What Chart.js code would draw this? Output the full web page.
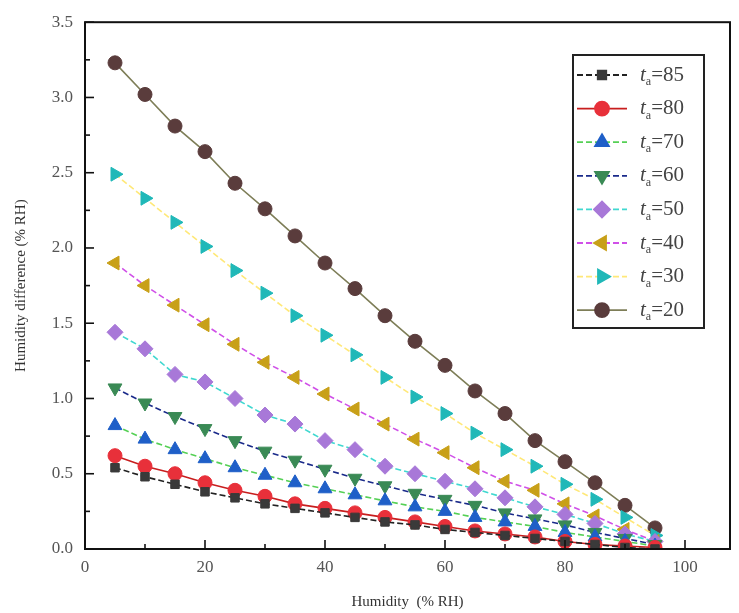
<!DOCTYPE html>
<html><head><meta charset="utf-8">
<script src="https://cdn.jsdelivr.net/npm/chart.js@4/dist/chart.umd.min.js"></script>
<style>html,body{margin:0;padding:0;background:#fff}#wrap{width:739px;height:613px}</style>
</head><body><div id="wrap"><canvas id="c" width="739" height="613"></canvas></div>
<script>
const humidity = [5,10,15,20,25,30,35,40,45,50,55,60,65,70,75,80,85,90,95];
const seriesT = [85,80,70,60,50,40,30,20];
const t85 = [0.54,0.48,0.43,0.38,0.34,0.30,0.27,0.24,0.21,0.18,0.16,0.13,0.11,0.09,0.07,0.05,0.03,0.01,0.00];
const t80 = [0.62,0.55,0.50,0.44,0.39,0.35,0.30,0.27,0.24,0.21,0.18,0.15,0.12,0.10,0.08,0.05,0.03,0.02,0.01];
const t70 = [0.82,0.73,0.66,0.60,0.54,0.49,0.44,0.40,0.36,0.32,0.28,0.25,0.21,0.18,0.15,0.11,0.08,0.05,0.02];
const t60 = [1.07,0.97,0.88,0.80,0.72,0.65,0.59,0.53,0.47,0.42,0.37,0.33,0.29,0.24,0.20,0.16,0.11,0.07,0.03];
const t50 = [1.44,1.33,1.16,1.11,1.00,0.89,0.83,0.72,0.66,0.55,0.50,0.45,0.40,0.34,0.28,0.23,0.17,0.10,0.05];
const t40 = [1.90,1.75,1.62,1.49,1.36,1.24,1.14,1.03,0.93,0.83,0.73,0.64,0.54,0.45,0.39,0.30,0.22,0.13,0.05];
const t30 = [2.49,2.33,2.17,2.01,1.85,1.70,1.55,1.42,1.29,1.14,1.01,0.90,0.77,0.66,0.55,0.43,0.33,0.21,0.09];
const t20 = [3.23,3.02,2.81,2.64,2.43,2.26,2.08,1.90,1.73,1.55,1.38,1.22,1.05,0.90,0.72,0.58,0.44,0.29,0.14];
const yTicks = [0,0.5,1,1.5,2,2.5,3,3.5];
const xTicks = [0,20,40,60,80,100];

const styles = [
  {line:'#222222', fill:'#3a3a3a', ps:'rect', rot:0, r:6, dash:[6,3]},
  {line:'#c81e1e', fill:'#e8303a', ps:'circle', rot:0, r:7, dash:[]},
  {line:'#55d055', fill:'#1f5fc8', ps:'triangle', rot:0, r:8, dash:[6,3]},
  {line:'#1a2a8a', fill:'#3a8a55', ps:'triangle', rot:180, r:8, dash:[6,3]},
  {line:'#40d8d0', fill:'#a878d8', ps:'rectRot', rot:0, r:8, dash:[6,3]},
  {line:'#d050e8', fill:'#c8a018', ps:'triangle', rot:270, r:8, dash:[6,3]},
  {line:'#ffe878', fill:'#20b8b8', ps:'triangle', rot:90, r:8, dash:[6,3]},
  {line:'#7e7e58', fill:'#5a3c3c', ps:'circle', rot:0, r:7, dash:[]}
];
const values = [t85,t80,t70,t60,t50,t40,t30,t20];

const datasets = seriesT.map((t,i)=>({
  label:'ta='+t,
  data: humidity.map((h,j)=>({x:h,y:values[i][j]})),
  borderColor: styles[i].line,
  backgroundColor: styles[i].fill,
  pointBackgroundColor: styles[i].fill,
  pointBorderColor: styles[i].fill,
  pointBorderWidth: 1,
  borderWidth: 1.6,
  borderDash: styles[i].dash,
  pointStyle: styles[i].ps,
  pointRotation: styles[i].rot,
  pointRadius: styles[i].r,
  tension: 0
}));

const serif = "'Liberation Serif', 'DejaVu Serif', serif";
const X_MAX = 107.5;

const framePlugin = {
  id:'frame',
  afterDraw(chart){
    const ctx = chart.ctx, a = chart.chartArea;
    const xs = chart.scales.x, ys = chart.scales.y;
    ctx.save();
    ctx.strokeStyle = '#111';
    ctx.lineWidth = 2;
    ctx.strokeRect(a.left, a.top, a.right-a.left, a.bottom-a.top);
    ctx.lineWidth = 1.6;
    for (let k=0;k<=14;k++){
      const v = k*0.25; const y = ys.getPixelForValue(v);
      const len = (k%2===0)?9:5;
      ctx.beginPath(); ctx.moveTo(a.left, y); ctx.lineTo(a.left+len, y); ctx.stroke();
    }
    for (let k=0;k*10<=X_MAX;k++){
      const v = k*10; const x = xs.getPixelForValue(v);
      const len = (k%2===0)?9:5;
      ctx.beginPath(); ctx.moveTo(x, a.bottom); ctx.lineTo(x, a.bottom-len); ctx.stroke();
    }
    // legend
    const lx = 573, ly = 55, lw = 131, lh = 273;
    ctx.fillStyle = '#fff';
    ctx.fillRect(lx, ly, lw, lh);
    ctx.strokeStyle = '#222'; ctx.lineWidth = 2;
    ctx.strokeRect(lx, ly, lw, lh);
    chart.data.datasets.forEach((ds,i)=>{
      const cy = ly + 20 + i*33.6;
      ctx.save();
      ctx.strokeStyle = ds.borderColor; ctx.lineWidth = 1.8;
      ctx.setLineDash(ds.borderDash);
      ctx.beginPath(); ctx.moveTo(lx+4, cy); ctx.lineTo(lx+54, cy); ctx.stroke();
      ctx.setLineDash([]);
      ctx.fillStyle = ds.pointBackgroundColor; ctx.strokeStyle = ds.pointBorderColor;
      Chart.helpers.drawPoint(ctx, {pointStyle: ds.pointStyle, rotation: ds.pointRotation, radius: ds.pointRadius, borderWidth: 1}, lx+29, cy);
      ctx.restore();
      ctx.fillStyle = '#444';
      ctx.textBaseline = 'middle';
      ctx.font = "italic 21px " + serif;
      ctx.fillText('t', lx+67, cy);
      const tw = ctx.measureText('t').width;
      ctx.font = "12px " + serif;
      ctx.fillText('a', lx+67+tw, cy+7);
      const aw = ctx.measureText('a').width;
      ctx.font = "21px " + serif;
      ctx.fillText('=' + seriesT[i], lx+67+tw+aw, cy);
    });
    ctx.restore();
  }
};

new Chart(document.getElementById('c'), {
  type:'line',
  data:{datasets},
  options:{
    responsive:false,
    animation:false,
    layout:{padding:{left:6,right:8,top:12,bottom:2}},
    plugins:{legend:{display:false}, tooltip:{enabled:false}},
    scales:{
      x:{type:'linear', min:0, max:X_MAX,
        afterBuildTicks(s){ s.ticks = xTicks.map(v=>({value:v})); },
        grid:{display:false, drawTicks:false}, border:{display:false},
        ticks:{padding:8, color:'#555', font:{family:serif, size:17}, maxRotation:0},
        title:{display:true, text:'Humidity  (% RH)', color:'#333', font:{family:serif, size:15}, padding:{top:14,bottom:0}},
        afterFit(s){ s.height = 62; }
      },
      y:{type:'linear', min:0, max:3.5,
        afterBuildTicks(s){ s.ticks = yTicks.map(v=>({value:v})); },
        grid:{display:false, drawTicks:false}, border:{display:false},
        ticks:{padding:12, color:'#555', font:{family:serif, size:17}, callback:v=>Number(v).toFixed(1)},
        title:{display:true, text:'Humidity difference (% RH)', color:'#333', font:{family:serif, size:15}, padding:{top:6,bottom:8}},
        afterFit(s){ s.width = 79; }
      }
    }
  },
  plugins:[framePlugin]
});
</script></body></html>
